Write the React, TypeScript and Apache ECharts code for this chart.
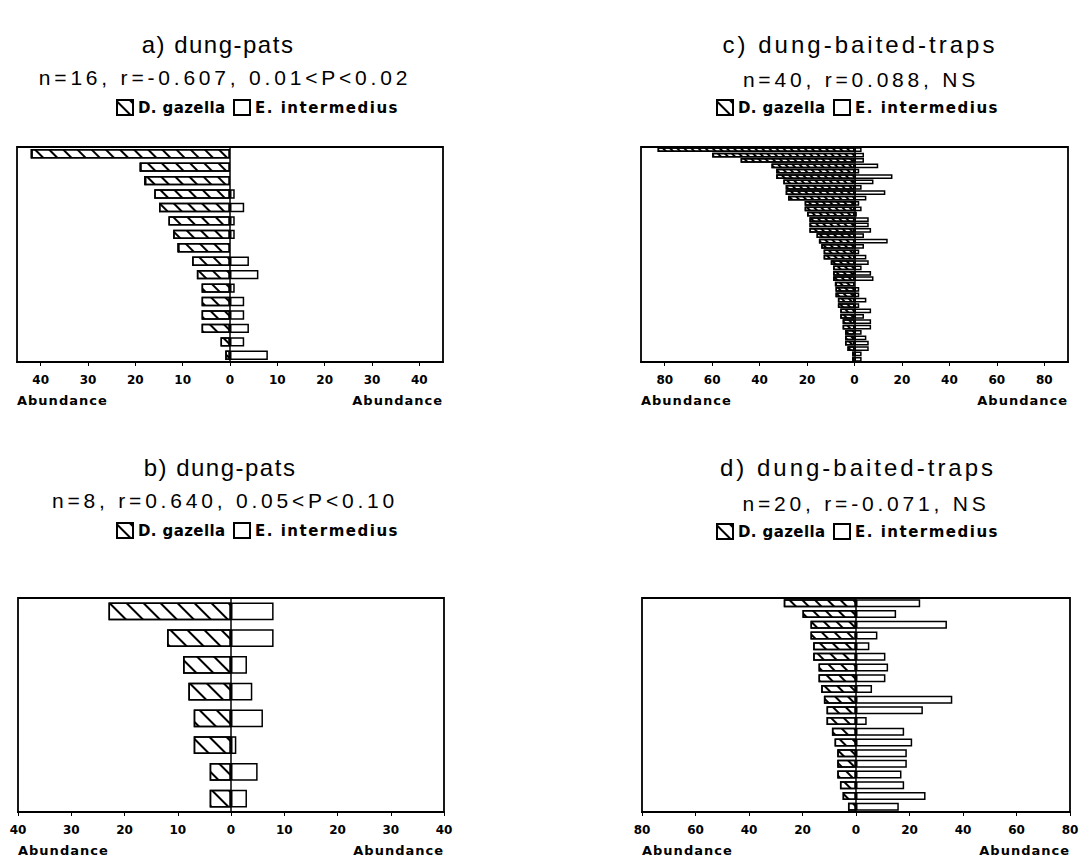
import React, { useEffect, useRef } from "react";
import * as echarts from "echarts";

const SPECIES_HATCHED = "D. gazella";
const SPECIES_OPEN = "E. intermedius";
const AXIS_NAME = "Abundance";

const titles = ["a) dung-pats", "b) dung-pats", "c) dung-baited-traps", "d) dung-baited-traps"];
const subtitles = [
  "n=16, r=-0.607, 0.01<P<0.02",
  "n=8, r=0.640, 0.05<P<0.10",
  "n=40, r=0.088, NS",
  "n=20, r=-0.071, NS",
];

const gazellaA = [42, 19, 18, 16, 15, 13, 12, 11, 8, 7, 6, 6, 6, 6, 2, 1];
const intermediusA = [0, 0, 0, 1, 3, 1, 1, 0, 4, 6, 1, 3, 3, 4, 3, 8];

const gazellaB = [23, 12, 9, 8, 7, 7, 4, 4];
const intermediusB = [8, 8, 3, 4, 6, 1, 5, 3];

const gazellaC = [83, 60, 48, 35, 33, 33, 30, 29, 29, 28, 21, 21, 20, 19, 19, 19, 16, 15, 14, 13, 13, 10, 9, 9, 9, 8, 8, 8, 7, 7, 6, 6, 5, 5, 4, 4, 4, 3, 1, 1];
const intermediusC = [3, 4, 4, 10, 2, 16, 8, 3, 13, 5, 2, 3, 1, 6, 6, 7, 4, 14, 4, 2, 5, 6, 3, 7, 8, 0, 2, 2, 5, 2, 7, 4, 7, 7, 3, 5, 6, 6, 3, 3];

const gazellaD = [27, 20, 17, 17, 16, 16, 14, 14, 13, 12, 11, 11, 9, 8, 7, 7, 7, 6, 5, 3];
const intermediusD = [24, 15, 34, 8, 5, 11, 12, 11, 6, 36, 25, 4, 18, 21, 19, 19, 17, 18, 26, 16];

const ticks40 = [-40, -30, -20, -10, 0, 10, 20, 30, 40];
const ticks80 = [-80, -60, -40, -20, 0, 20, 40, 60, 80];

type Panel = {
  title: string;
  subtitle: string;
  gaz: number[];
  int: number[];
  range: number;
  ticks: number[];
  grid: { left: number; top: number; width: number; height: number };
  gap: string;
  hatch: number[];
  bw: number;
  titleX: number;
  titleY: number;
  subX: number;
  subY: number;
  legendX: number[];
  legendY: number;
  abundY: number;
};

const panels: Panel[] = [
  { title: titles[0], subtitle: subtitles[0], gaz: gazellaA, int: intermediusA, range: 45, ticks: ticks40,
    grid: { left: 17, top: 147, width: 426, height: 215 }, gap: "30%", hatch: [1.5, 8], bw: 1.5,
    titleX: 218, titleY: 44, subX: 225, subY: 77, legendX: [116, 233], legendY: 107, abundY: 400 },
  { title: titles[1], subtitle: subtitles[1], gaz: gazellaB, int: intermediusB, range: 40, ticks: ticks40,
    grid: { left: 18, top: 598, width: 426, height: 214 }, gap: "34%", hatch: [1.6, 10], bw: 1.5,
    titleX: 220, titleY: 467, subX: 225, subY: 500, legendX: [116, 233], legendY: 530, abundY: 850 },
  { title: titles[2], subtitle: subtitles[2], gaz: gazellaC, int: intermediusC, range: 90, ticks: ticks80,
    grid: { left: 641, top: 147, width: 427, height: 215 }, gap: "10%", hatch: [1.6, 2.2], bw: 1.5,
    titleX: 860, titleY: 44, subX: 861, subY: 79, legendX: [716, 833], legendY: 107, abundY: 400 },
  { title: titles[3], subtitle: subtitles[3], gaz: gazellaD, int: intermediusD, range: 80, ticks: ticks80,
    grid: { left: 642, top: 598, width: 428, height: 214 }, gap: "25%", hatch: [1.5, 6.5], bw: 1.5,
    titleX: 858, titleY: 467, subX: 866, subY: 503, legendX: [716, 833], legendY: 531, abundY: 850 },
];

export default function App() {
  const ref = useRef<HTMLDivElement>(null);

  useEffect(() => {
    document.body.style.margin = "0";
    const el = ref.current!;
    const chart = echarts.init(el, null, { renderer: "svg" });

    const grids: any[] = [];
    const xAxes: any[] = [];
    const yAxes: any[] = [];
    const series: any[] = [];
    const legends: any[] = [];
    const graphics: any[] = [];

    panels.forEach((p, i) => {
      grids.push({
        ...p.grid,
        show: true,
        borderColor: "#000",
        borderWidth: 1.8,
        containLabel: false,
        outerBoundsMode: "none",
      });
      xAxes.push({
        type: "value",
        gridIndex: i,
        min: -p.range,
        max: p.range,
        splitLine: { show: false },
        axisLine: { show: true, onZero: false, lineStyle: { color: "#000", width: 1.8 } },
        axisTick: { show: true, customValues: p.ticks, length: 4, lineStyle: { color: "#000", width: 1 } },
        axisLabel: {
          customValues: p.ticks,
          formatter: (v: number) => String(Math.abs(v)),
          color: "#000",
          fontFamily: "DejaVu Sans",
          fontWeight: "bold",
          fontSize: 12,
          margin: 12,
        },
      });
      yAxes.push({
        type: "category",
        gridIndex: i,
        inverse: true,
        data: p.gaz.map((_, k) => String(k + 1)),
        axisLine: { show: true, onZero: true, lineStyle: { color: "#000", width: 1.5 } },
        axisTick: { show: false },
        axisLabel: { show: false },
        splitLine: { show: false },
      });
      series.push({
        type: "bar",
        name: SPECIES_HATCHED,
        xAxisIndex: i,
        yAxisIndex: i,
        stack: "s" + i,
        barCategoryGap: p.gap,
        data: p.gaz.map((v) => -v),
        itemStyle: {
          color: "#fff",
          borderColor: "#000",
          borderWidth: p.bw,
          decal: {
            symbol: "rect",
            symbolSize: 1,
            color: "#000",
            dashArrayX: [1, 0],
            dashArrayY: p.hatch,
            rotation: Math.PI / 4,
          },
        },
      });
      series.push({
        type: "bar",
        name: SPECIES_OPEN,
        xAxisIndex: i,
        yAxisIndex: i,
        stack: "s" + i,
        barCategoryGap: p.gap,
        data: p.int,
        itemStyle: { color: "#fff", borderColor: "#000", borderWidth: p.bw },
      });
      [SPECIES_HATCHED, SPECIES_OPEN].forEach((name, k) => {
        legends.push({
          data: [name],
          left: p.legendX[k],
          top: p.legendY - 8,
          padding: 0,
          icon: "rect",
          itemWidth: 16,
          itemHeight: 15,
          selectedMode: false,
          textStyle: { fontFamily: "DejaVu Sans", fontWeight: "bold", fontSize: 15, color: "#000" },
        });
      });
      graphics.push({
        type: "text",
        x: p.titleX,
        y: p.titleY,
        style: { text: p.title, fontFamily: "Liberation Sans", fontSize: 24, fill: "#000", align: "center", verticalAlign: "middle" },
      });
      graphics.push({
        type: "text",
        x: p.subX,
        y: p.subY,
        style: { text: p.subtitle, fontFamily: "Liberation Sans", fontSize: 21, fill: "#000", align: "center", verticalAlign: "middle" },
      });
      graphics.push({
        type: "text",
        x: p.grid.left,
        y: p.abundY,
        style: { text: AXIS_NAME, fontFamily: "DejaVu Sans", fontWeight: "bold", fontSize: 13, fill: "#000", align: "left", verticalAlign: "middle" },
      });
      graphics.push({
        type: "text",
        x: p.grid.left + p.grid.width,
        y: p.abundY,
        style: { text: AXIS_NAME, fontFamily: "DejaVu Sans", fontWeight: "bold", fontSize: 13, fill: "#000", align: "right", verticalAlign: "middle" },
      });
    });

    chart.setOption({
      animation: false,
      backgroundColor: "#fff",
      grid: grids,
      xAxis: xAxes,
      yAxis: yAxes,
      series,
      legend: legends,
      graphic: graphics,
    });

    const spacing: Record<string, number> = {};
    spacing[titles[0]] = 1.5;
    spacing[titles[1]] = 1.5;
    spacing[titles[2]] = 3;
    spacing[titles[3]] = 3;
    subtitles.forEach((s) => (spacing[s] = 3.8));
    spacing[SPECIES_HATCHED] = 0.4;
    spacing[SPECIES_OPEN] = 1.5;
    spacing[AXIS_NAME] = 1;
    el.querySelectorAll("text").forEach((t) => {
      const v = spacing[t.textContent || ""];
      if (v) t.setAttribute("letter-spacing", String(v));
    });

    return () => chart.dispose();
  }, []);

  return <div ref={ref} style={{ width: 1079, height: 859 }} />;
}
